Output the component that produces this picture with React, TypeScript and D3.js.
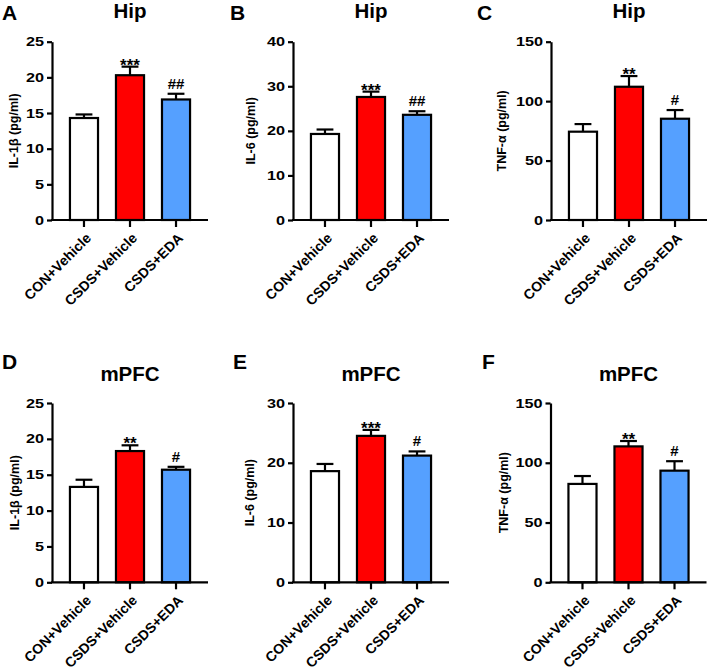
import React, { useEffect, useRef } from 'react'
import * as d3 from 'd3'

// groups on the x axis
const groups = ['CON+Vehicle', 'CSDS+Vehicle', 'CSDS+EDA']

// Hip
const hipIL1b = [14.3, 20.3, 16.9]
const hipIL1bErr = [0.5, 1.2, 0.8]
const hipIL1bSig = ['', '***', '##']
const hipIL6 = [19.3, 27.6, 23.6]
const hipIL6Err = [1.0, 1.2, 0.8]
const hipIL6Sig = ['', '***', '##']
const hipTNF = [74.3, 112.1, 85.2]
const hipTNFErr = [6.4, 9.0, 7.3]
const hipTNFSig = ['', '**', '#']

// mPFC
const pfcIL1b = [13.3, 18.3, 15.7]
const pfcIL1bErr = [1.0, 0.8, 0.4]
const pfcIL1bSig = ['', '**', '#']
const pfcIL6 = [18.6, 24.5, 21.2]
const pfcIL6Err = [1.2, 1.0, 0.7]
const pfcIL6Sig = ['', '***', '#']
const pfcTNF = [82.3, 113.7, 93.4]
const pfcTNFErr = [6.6, 4.5, 7.9]
const pfcTNFSig = ['', '**', '#']

// tick labels
const ticksIL1b = [0, 5, 10, 15, 20, 25]
const ticksIL6Hip = [0, 10, 20, 30, 40]
const ticksIL6Pfc = [0, 10, 20, 30]
const ticksTNF = [0, 50, 100, 150]

const colors = ['#FFFFFF', '#FF0000', '#55A0FF']

const width = 708
const height = 667
const axisLen = 156
const font = 'Arial, "Liberation Sans", sans-serif'

const panels = [
	{ letter: 'A', letterX: 2, title: 'Hip', yLabel: 'IL-1β (pg/ml)', values: hipIL1b, errors: hipIL1bErr, sig: hipIL1bSig, ticks: ticksIL1b, x: 52, top: 41.7, bottom: 220, labelOff: 34 },
	{ letter: 'B', letterX: 230, title: 'Hip', yLabel: 'IL-6 (pg/ml)', values: hipIL6, errors: hipIL6Err, sig: hipIL6Sig, ticks: ticksIL6Hip, x: 293, top: 41.7, bottom: 220, labelOff: 38.5 },
	{ letter: 'C', letterX: 477, title: 'Hip', yLabel: 'TNF-α (pg/ml)', values: hipTNF, errors: hipTNFErr, sig: hipTNFSig, ticks: ticksTNF, x: 551, top: 41.7, bottom: 220, labelOff: 45 },
	{ letter: 'D', letterX: 2, title: 'mPFC', yLabel: 'IL-1β (pg/ml)', values: pfcIL1b, errors: pfcIL1bErr, sig: pfcIL1bSig, ticks: ticksIL1b, x: 52, top: 403, bottom: 582.3, labelOff: 33 },
	{ letter: 'E', letterX: 233, title: 'mPFC', yLabel: 'IL-6 (pg/ml)', values: pfcIL6, errors: pfcIL6Err, sig: pfcIL6Sig, ticks: ticksIL6Pfc, x: 293, top: 403, bottom: 582.3, labelOff: 39.5 },
	{ letter: 'F', letterX: 482, title: 'mPFC', yLabel: 'TNF-α (pg/ml)', values: pfcTNF, errors: pfcTNFErr, sig: pfcTNFSig, ticks: ticksTNF, x: 550.5, top: 403, bottom: 582.3, labelOff: 43 }
]

const App = () => {
	const ref = useRef<SVGSVGElement>(null)

	useEffect(() => {
		if (!ref.current) return
		const svg = d3.select(ref.current)
		svg.selectAll('*').remove()

		panels.forEach(p => {
			const g = svg.append('g')
			const tickMax = p.ticks[p.ticks.length - 1]

			const y = d3.scaleLinear().domain([0, tickMax]).range([p.bottom, p.top])
			const x = d3
				.scaleBand()
				.domain(groups)
				.range([p.x, p.x + axisLen])
				.padding(0.39)

			// letter + title
			const titleBase = p.top < 100 ? 18 : 380.5
			const letterBase = p.top < 100 ? 19.5 : 368.5
			g.append('text')
				.attr('x', p.letterX)
				.attr('y', letterBase)
				.attr('font-family', font)
				.attr('font-weight', 'bold')
				.attr('font-size', 21)
				.text(p.letter)
			g.append('text')
				.attr('x', p.x + axisLen / 2)
				.attr('y', titleBase)
				.attr('text-anchor', 'middle')
				.attr('font-family', font)
				.attr('font-weight', 'bold')
				.attr('font-size', 20.5)
				.text(p.title)

			// bars
			g.selectAll('rect.bar')
				.data(p.values)
				.join('rect')
				.attr('class', 'bar')
				.attr('x', (d, i) => x(groups[i]))
				.attr('y', d => y(d))
				.attr('width', x.bandwidth())
				.attr('height', d => p.bottom - y(d))
				.attr('fill', (d, i) => colors[i])
				.attr('stroke', '#000')
				.attr('stroke-width', 2.2)

			// error bars
			const cap = x.bandwidth() * 0.3
			p.values.forEach((v, i) => {
				const cx = x(groups[i]) + x.bandwidth() / 2
				const yt = y(v + p.errors[i])
				g.append('line')
					.attr('x1', cx).attr('x2', cx)
					.attr('y1', y(v)).attr('y2', yt)
					.attr('stroke', '#000').attr('stroke-width', 2.2)
				g.append('line')
					.attr('x1', cx - cap).attr('x2', cx + cap)
					.attr('y1', yt).attr('y2', yt)
					.attr('stroke', '#000').attr('stroke-width', 2.2)
				const s = p.sig[i]
				if (s) {
					const star = s.startsWith('*')
					g.append('text')
						.attr('x', cx)
						.attr('y', star ? yt + 4 : yt - 5)
						.attr('text-anchor', 'middle')
						.attr('font-family', font)
						.attr('font-weight', 'bold')
						.attr('font-size', star ? 17 : 15)
						.text(s)
				}
			})

			// y axis
			const yAxis = g
				.append('g')
				.attr('transform', `translate(${p.x},0)`)
				.call(d3.axisLeft(y).tickValues(p.ticks).tickSize(5).tickSizeOuter(0).tickPadding(3))
			yAxis.select('.domain').attr('stroke-width', 2.2)
			yAxis.selectAll('.tick line').attr('stroke-width', 2.2)
			yAxis
				.selectAll('.tick text')
				.attr('font-family', font)
				.attr('font-weight', 'bold')
				.attr('font-size', 12.5)
				.attr('fill', '#000')
				.attr('x', -8 / 1.3)
				.attr('transform', 'scale(1.3,1)')

			// x axis
			g.append('line')
				.attr('x1', p.x - 1).attr('x2', p.x + axisLen)
				.attr('y1', p.bottom).attr('y2', p.bottom)
				.attr('stroke', '#000').attr('stroke-width', 2.2)
			groups.forEach(name => {
				const cx = x(name) + x.bandwidth() / 2
				g.append('line')
					.attr('x1', cx).attr('x2', cx)
					.attr('y1', p.bottom).attr('y2', p.bottom + 7)
					.attr('stroke', '#000').attr('stroke-width', 2.2)
				g.append('text')
					.attr('transform', `translate(${cx + 8},${p.bottom + 19}) rotate(-45)`)
					.attr('text-anchor', 'end')
					.attr('font-family', font)
					.attr('font-weight', 'bold')
					.attr('font-size', 14)
					.text(name)
			})

			// y label
			g.append('text')
				.attr('transform', `translate(${p.x - p.labelOff},${(p.top + p.bottom) / 2}) rotate(-90)`)
				.attr('text-anchor', 'middle')
				.attr('font-family', font)
				.attr('font-weight', 'bold')
				.attr('font-size', 12.5)
				.text(p.yLabel)
		})
	}, [])

	return (
		<svg
			ref={ref}
			width={width}
			height={height}
			style={{ position: 'absolute', left: 0, top: 0, background: '#fff' }}
		></svg>
	)
}

export default App
